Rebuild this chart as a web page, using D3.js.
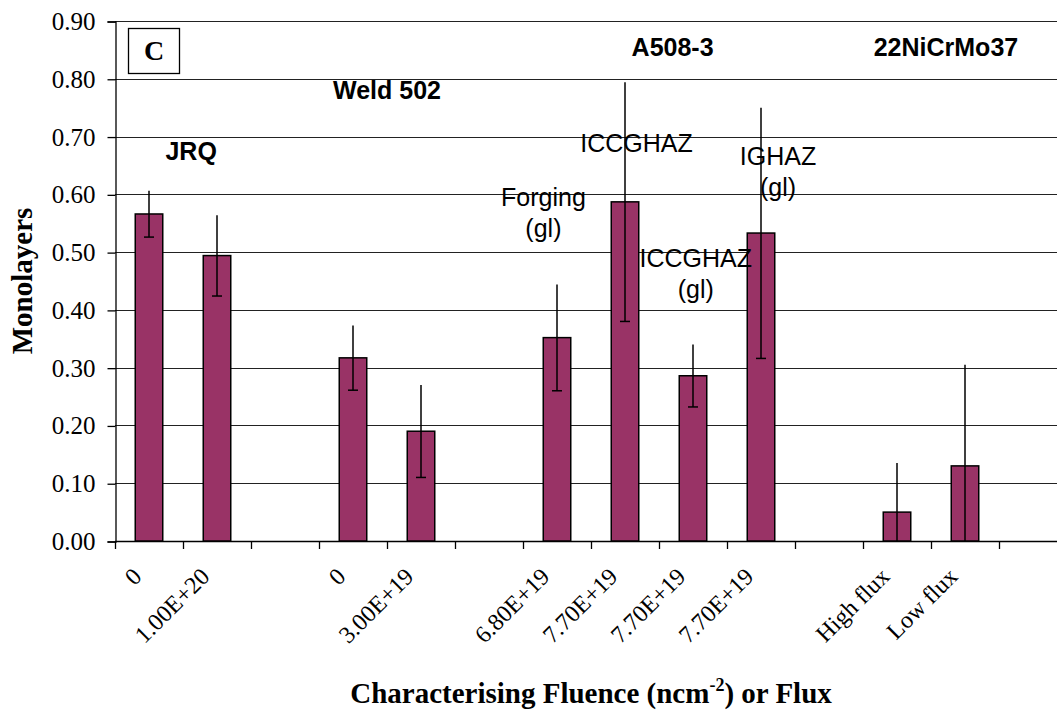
<!DOCTYPE html>
<html>
<head>
<meta charset="utf-8">
<script src="https://cdnjs.cloudflare.com/ajax/libs/d3/7.8.5/d3.min.js"></script>
<style>
  body { margin: 0; background: #fff; }
  svg { display: block; }
</style>
</head>
<body>
<div id="chart"></div>
<script>
//***************************** Data ***********************************

var tick_labels = ['0', '1.00E+20', '', '0', '3.00E+19', '', '6.80E+19', '7.70E+19', '7.70E+19', '7.70E+19', '', 'High flux', 'Low flux', ''];
var values = [0.566, 0.494, null, 0.317, 0.190, null, 0.352, 0.587, 0.286, 0.533, null, 0.050, 0.130, null];
var errors = [0.040, 0.070, null, 0.056, 0.080, null, 0.092, 0.207, 0.054, 0.217, null, 0.085, 0.175, null];
var y_ticks = [0, 0.1, 0.2, 0.3, 0.4, 0.5, 0.6, 0.7, 0.8, 0.9];

// group titles (bold) and sample notes (normal) above the bars
var group_labels = ['JRQ', 'Weld 502', 'A508-3', '22NiCrMo37'];
var note_labels = [['Forging', '(gl)'], ['ICCGHAZ'], ['ICCGHAZ', '(gl)'], ['IGHAZ', '(gl)']];

var chart_width = 1057;
var chart_height = 710;
var left = 115, top_y = 21, bottom = 541, right = 1067;

var serif = '"Liberation Serif", "Times New Roman", serif';
var sans = '"Liberation Sans", Arial, sans-serif';

var svg = d3.select('#chart')
  .append('svg')
  .attr('width', chart_width)
  .attr('height', chart_height);

//***************************** Scales ***********************************

var x_scale = d3.scaleBand()
  .domain(d3.range(tick_labels.length))
  .range([left, right])
  .padding(0);

var y_scale = d3.scaleLinear()
  .domain([0, 0.9])
  .range([bottom, top_y]);

var bar_w = 27.5;

// gridlines
svg.append('g')
  .selectAll('line')
  .data(y_ticks.slice(1))
  .enter()
  .append('line')
  .attr('x1', left)
  .attr('x2', right)
  .attr('y1', function(d){ return Math.round(y_scale(d)) + 0.5; })
  .attr('y2', function(d){ return Math.round(y_scale(d)) + 0.5; })
  .attr('stroke', '#222')
  .attr('stroke-width', 1.2);

//***************************** Axes ***********************************

var y_axis = d3.axisLeft(y_scale)
  .tickValues(y_ticks)
  .tickSize(8)
  .tickPadding(12)
  .tickFormat(d3.format('.2f'));

var gy = svg.append('g')
  .attr('transform', 'translate(' + (left + 0.5) + ',0.5)')
  .call(y_axis);
gy.select('.domain').attr('stroke', '#000').attr('stroke-width', 1.3);
gy.selectAll('.tick line').attr('stroke', '#000').attr('stroke-width', 1.3);
gy.selectAll('.tick text')
  .attr('font-family', serif)
  .attr('font-size', 25)
  .attr('fill', '#000');

// x axis: ticks on band boundaries, labels rotated
var x_axis_line = svg.append('g');
x_axis_line.append('line')
  .attr('x1', left)
  .attr('x2', right)
  .attr('y1', bottom + 0.5)
  .attr('y2', bottom + 0.5)
  .attr('stroke', '#000')
  .attr('stroke-width', 1.3);

x_axis_line.selectAll('line.tk')
  .data(d3.range(tick_labels.length + 1))
  .enter()
  .append('line')
  .attr('class', 'tk')
  .attr('x1', function(i){ return Math.round(left + i * x_scale.step()) + 0.5; })
  .attr('x2', function(i){ return Math.round(left + i * x_scale.step()) + 0.5; })
  .attr('y1', bottom)
  .attr('y2', bottom + 8)
  .attr('stroke', '#000')
  .attr('stroke-width', 1.3);

svg.append('g')
  .selectAll('text')
  .data(tick_labels)
  .enter()
  .append('text')
  .text(function(d){ return d; })
  .attr('text-anchor', 'end')
  .attr('font-family', serif)
  .attr('font-size', 24)
  .attr('transform', function(d, i){
    var cx = x_scale(i) + x_scale.bandwidth() / 2;
    return 'translate(' + (cx - 6) + ',' + 578 + ') rotate(-45)';
  });

//***************************** Bars ***********************************

var bar_data = values.map(function(v, i){
  return { i: i, v: v, e: errors[i] };
}).filter(function(d){ return d.v !== null; });

svg.append('g')
  .selectAll('rect')
  .data(bar_data)
  .enter()
  .append('rect')
  .attr('x', function(d){ return x_scale(d.i) + x_scale.bandwidth() / 2 - bar_w / 2; })
  .attr('y', function(d){ return y_scale(d.v); })
  .attr('width', bar_w)
  .attr('height', function(d){ return bottom - y_scale(d.v); })
  .attr('fill', '#993366')
  .attr('stroke', '#000')
  .attr('stroke-width', 1.5);

// error bars, cap on the lower end only
var eb = svg.append('g')
  .selectAll('g')
  .data(bar_data)
  .enter()
  .append('g');

eb.append('line')
  .attr('x1', function(d){ return x_scale(d.i) + x_scale.bandwidth() / 2; })
  .attr('x2', function(d){ return x_scale(d.i) + x_scale.bandwidth() / 2; })
  .attr('y1', function(d){ return y_scale(d.v + d.e); })
  .attr('y2', function(d){ return y_scale(Math.max(0, d.v - d.e)); })
  .attr('stroke', '#000')
  .attr('stroke-width', 1.5);

eb.filter(function(d){ return d.v - d.e > 0; })
  .append('line')
  .attr('x1', function(d){ return x_scale(d.i) + x_scale.bandwidth() / 2 - 5; })
  .attr('x2', function(d){ return x_scale(d.i) + x_scale.bandwidth() / 2 + 5; })
  .attr('y1', function(d){ return y_scale(d.v - d.e); })
  .attr('y2', function(d){ return y_scale(d.v - d.e); })
  .attr('stroke', '#000')
  .attr('stroke-width', 1.5);

//***************************** Labels ***********************************

// group titles sit over the first bar pair / group
var group_pos = [[1.12, 160], [4.0, 99], [8.2, 56], [12.22, 56]];
svg.append('g')
  .selectAll('text')
  .data(group_labels)
  .enter()
  .append('text')
  .text(function(d){ return d; })
  .attr('x', function(d, i){ return left + group_pos[i][0] * x_scale.step(); })
  .attr('y', function(d, i){ return group_pos[i][1]; })
  .attr('text-anchor', 'middle')
  .attr('font-family', sans)
  .attr('font-weight', 'bold')
  .attr('font-size', 25);

var note_pos = [[6.3, 206], [7.67, 152], [8.54, 267], [9.75, 165]];
var notes = svg.append('g')
  .selectAll('text')
  .data(note_labels)
  .enter()
  .append('text')
  .attr('text-anchor', 'middle')
  .attr('font-family', sans)
  .attr('font-size', 25)
  .attr('y', function(d, i){ return note_pos[i][1]; });

notes.selectAll('tspan')
  .data(function(d, i){ return d.map(function(t){ return { t: t, i: i }; }); })
  .enter()
  .append('tspan')
  .text(function(d){ return d.t; })
  .attr('x', function(d){ return left + note_pos[d.i][0] * x_scale.step(); })
  .attr('dy', function(d, j){ return j === 0 ? 0 : 31; });

// panel letter box
svg.append('rect')
  .attr('x', 128.5)
  .attr('y', 28.5)
  .attr('width', 51)
  .attr('height', 45)
  .attr('fill', '#fff')
  .attr('stroke', '#000')
  .attr('stroke-width', 1.3);
svg.append('text')
  .text('C')
  .attr('x', 154)
  .attr('y', 60)
  .attr('text-anchor', 'middle')
  .attr('font-family', serif)
  .attr('font-weight', 'bold')
  .attr('font-size', 28);

// axis titles
svg.append('text')
  .attr('transform', 'translate(32,' + ((top_y + bottom) / 2) + ') rotate(-90)')
  .attr('text-anchor', 'middle')
  .attr('font-family', serif)
  .attr('font-weight', 'bold')
  .attr('font-size', 29)
  .text('Monolayers');

var xt = svg.append('text')
  .attr('x', (left + right) / 2)
  .attr('y', 703)
  .attr('text-anchor', 'middle')
  .attr('font-family', serif)
  .attr('font-weight', 'bold')
  .attr('font-size', 29);
xt.append('tspan').text('Characterising Fluence (ncm');
xt.append('tspan').text('-2').attr('font-size', 18).attr('dy', -12);
xt.append('tspan').text(') or Flux').attr('dy', 12);
</script>
</body>
</html>
